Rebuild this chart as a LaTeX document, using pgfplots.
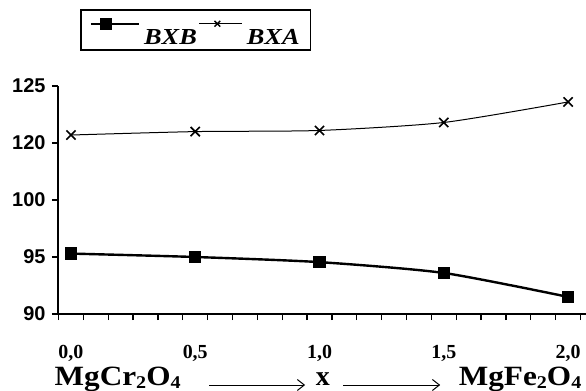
\documentclass[border=0pt]{standalone}
\usepackage{fontspec}
\setmainfont{Liberation Serif}
\setsansfont{Liberation Sans}
\usepackage{pgfplots}
\pgfplotsset{compat=1.18}
\usetikzlibrary{arrows.meta}
\newcommand{\arr}[1]{\tikz[baseline=0pt]\draw[line width=1bp,-{Straight Barb[length=7bp,width=11bp]}] (0,0bp)--(#1,0bp);}
\newcommand{\sub}[1]{\raisebox{-3bp}{\fontsize{18}{18}\selectfont #1}}
\newcommand{\wide}[1]{\scalebox{1.12}[1]{#1}}
\begin{document}
\begin{tikzpicture}
\begin{axis}[
  scale only axis, width=528bp, height=228bp,
  xmin=-0.052, xmax=2.072,
  ymin=90, ymax=125,
  enlargelimits=false,
  clip=false,
  y coord trafo/.code={\pgfmathparse{#1>120 ? #1-15 : (#1>100 ? 100+(#1-100)/4 : #1)}},
  axis lines*=left,
  axis line style={line width=1.6bp, black},
  tick align=outside,
  xtick={0,0.5,1,1.5,2},
  xticklabels={{0,0},{0,5},{1,0},{1,5},{2,0}},
  major x tick style={opacity=0},
  minor xtick={-0.05,0.05,0.15,0.25,0.35,0.45,0.55,0.65,0.75,0.85,0.95,1.05,1.15,1.25,1.35,1.45,1.55,1.65,1.75,1.85,1.95,2.05},
  minor tick length=6bp,
  major tick length=6bp,
  tick style={line width=1.3bp, black},
  ytick={90,95,100,120,125},
  yticklabels={90,95,100,120,125},
  xticklabel style={font=\fontsize{20}{20}\selectfont\bfseries, anchor=base, yshift=-38bp},
  yticklabel style={font=\fontsize{20}{20}\selectfont\bfseries\sffamily, xshift=-3bp},
  xlabel={\wide{MgCr\sub{2}O\sub{4}}\hspace{28bp}\arr{96bp}\hspace{10bp}x\hspace{13bp}\arr{97bp}\hspace{18bp}\wide{MgFe\sub{2}O\sub{4}}},
  xlabel style={font=\fontsize{28}{28}\selectfont\bfseries, at={(axis description cs:0.5,0)}, anchor=base, yshift=-71bp, xshift=-4bp},
  legend columns=2,
  legend style={at={(0.0417,1.3377)}, anchor=north west, draw=black, line width=1.5bp,
    font=\fontsize{23}{23}\selectfont\bfseries\itshape, inner xsep=9bp, inner ysep=2bp,
    /tikz/every odd column/.append style={column sep=2bp},
    /tikz/every even column/.append style={column sep=0bp}},
]
\coordinate (o) at (rel axis cs:0,0);
\coordinate (t) at (rel axis cs:1,1);
\addplot[black, line width=2.4bp, smooth, tension=0.4, mark=square*, mark size=5bp, mark options={solid},
  legend image code/.code={\path[draw=none,fill=none] (0bp,-4bp) rectangle (48bp,26bp); \draw[black, line width=2.4bp] (0bp,14bp) -- (48bp,14bp); \draw[black, mark=square*, mark size=5bp] plot coordinates {(15bp,14bp)};}]
  coordinates {(0,95.3) (0.5,95.0) (1,94.55) (1.5,93.6) (2,91.5)};
\addlegendentry{\scalebox{1.15}[1]{BXB}}
\addplot[black, line width=1bp, smooth, tension=0.4, mark=x, mark size=6.5bp, mark options={line width=1.6bp},
  legend image code/.code={\path[draw=none,fill=none] (0bp,-4bp) rectangle (43bp,26bp); \draw[black, line width=1bp] (0bp,14bp) -- (43bp,14bp); \draw[black, mark=x, mark size=4bp, mark options={line width=1.3bp}] plot coordinates {(18bp,14bp)};}]
  coordinates {(0,120.7) (0.5,121.0) (1,121.1) (1.5,121.8) (2,123.6)};
\addlegendentry{\scalebox{1.15}[1]{BXA}}
\end{axis}
\pgfresetboundingbox
\path[use as bounding box] ([xshift=-58bp,yshift=-77bp]o) rectangle ([yshift=86bp]t);
\end{tikzpicture}
\end{document}
